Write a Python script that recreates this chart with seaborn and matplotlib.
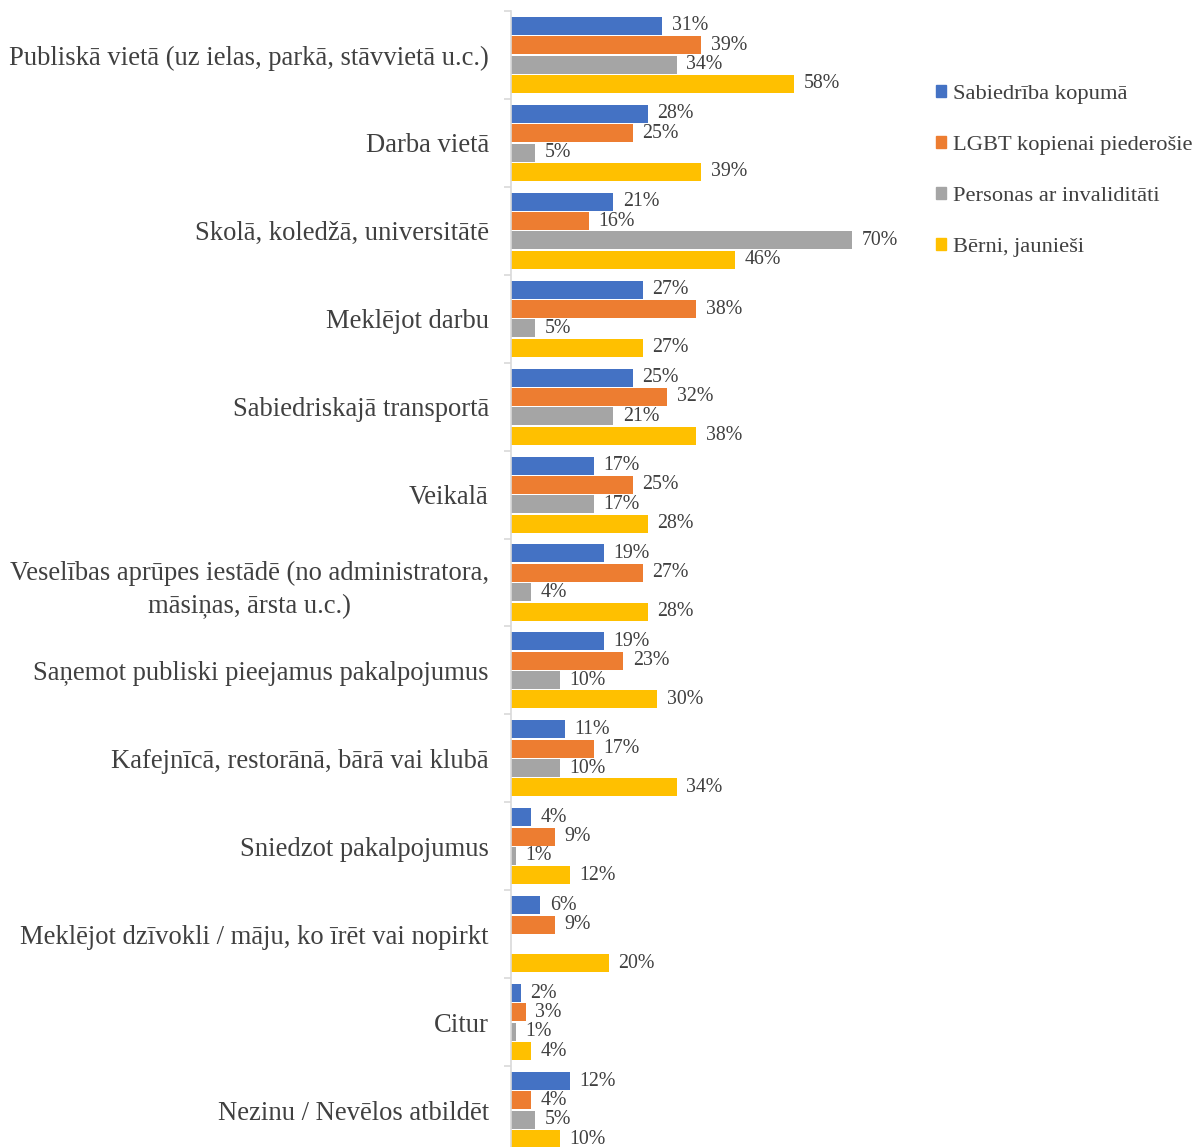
import numpy as np
import pandas as pd
import matplotlib
matplotlib.use('Agg')
import matplotlib.pyplot as plt
import seaborn as sns

# Chart data
categories = [
    'Publiskā vietā (uz ielas, parkā, stāvvietā u.c.)',
    'Darba vietā',
    'Skolā, koledžā, universitātē',
    'Meklējot darbu',
    'Sabiedriskajā transportā',
    'Veikalā',
    'Veselības aprūpes iestādē (no administratora,\nmāsiņas, ārsta u.c.)',
    'Saņemot publiski pieejamus pakalpojumus',
    'Kafejnīcā, restorānā, bārā vai klubā',
    'Sniedzot pakalpojumus',
    'Meklējot dzīvokli / māju, ko īrēt vai nopirkt',
    'Citur',
    'Nezinu / Nevēlos atbildēt',
]
series = ['Sabiedrība kopumā', 'LGBT kopienai piederošie',
          'Personas ar invaliditāti', 'Bērni, jaunieši']
sabiedriba = [31, 28, 21, 27, 25, 17, 19, 19, 11, 4, 6, 2, 12]
lgbt = [39, 25, 16, 38, 32, 25, 27, 23, 17, 9, 9, 3, 4]
invaliditate = [34, 5, 70, 5, 21, 17, 4, 10, 10, 1, np.nan, 1, 5]
berni = [58, 39, 46, 27, 38, 28, 28, 30, 34, 12, 20, 4, 10]
colors = ['#4472C4', '#ED7D31', '#A5A5A5', '#FFC000']
text_color = '#404040'

rows = []
for name, vals in zip(series, [sabiedriba, lgbt, invaliditate, berni]):
    for cat, v in zip(categories, vals):
        rows.append({'kategorija': cat, 'grupa': name, 'vertiba': v})
df = pd.DataFrame(rows)

plt.rcParams['font.family'] = ['Liberation Serif', 'DejaVu Serif']

fig = plt.figure(figsize=(11.94, 11.47), dpi=100)
# axis spans from ~11 px below the top to ~7 px past the bottom edge
ax = fig.add_axes([511 / 1194, -7 / 1147, 390 / 1194, 1143 / 1147])

sns.barplot(data=df, y='kategorija', x='vertiba', hue='grupa',
            order=categories, hue_order=series, palette=colors,
            saturation=1, orient='h', width=0.88, gap=0.07, linewidth=0,
            errorbar=None, ax=ax)

for cont in ax.containers:
    ax.bar_label(cont, fmt='{:.0f}%', padding=7, fontsize=14.3,
                 color=text_color)

ax.set_xlim(0, 80)
ax.set_ylim(len(categories) - 0.5, -0.5)
ax.set_xlabel('')
ax.set_ylabel('')
ax.xaxis.set_visible(False)
for side in ['top', 'right', 'bottom']:
    ax.spines[side].set_visible(False)
ax.spines['left'].set_color('#D9D9D9')
ax.spines['left'].set_linewidth(1.2)

ax.set_yticks(np.arange(-0.5, len(categories)), minor=True)
ax.tick_params(axis='y', which='major', length=0, pad=16,
               labelsize=19.2, labelcolor=text_color)
ax.tick_params(axis='y', which='minor', length=5, color='#D9D9D9', width=1.2)
for lbl in ax.get_yticklabels():
    lbl.set_multialignment('center')
    lbl.set_linespacing(1.45)

ax.legend_.remove()
handles = [plt.Rectangle((0, 0), 1, 1, color=c) for c in colors]
fig.legend(handles, series, loc='center left',
           bbox_to_anchor=(916 / 1194, 1 - 171 / 1147), frameon=False,
           fontsize=16.2, labelcolor=text_color, handlelength=0.45,
           handleheight=0.45, handletextpad=0.3, labelspacing=1.42)

fig.savefig('out.png', dpi=100)
